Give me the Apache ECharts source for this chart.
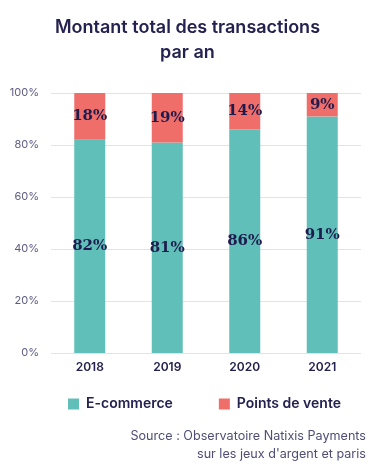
<!DOCTYPE html>
<html><head><meta charset="utf-8">
<script src="https://cdn.jsdelivr.net/npm/echarts@6/dist/echarts.min.js"></script>
<style>html,body{margin:0;padding:0;background:#fff}#c{width:375px;height:469px}</style>
</head><body><div id="c"></div>
<script>
const categories = ['2018','2019','2020','2021'];
const ecommerce = [82, 81, 86, 91];
const pointsDeVente = [18, 19, 14, 9];
const yTicks = ['0%','20%','40%','60%','80%','100%'];
const seriesNames = ['E-commerce','Points de vente'];

const chart = echarts.init(document.getElementById('c'));
const labelStyle = {
  show: true, position: 'inside',
  formatter: p => p.value + '%',
  fontFamily: '"DejaVu Serif", "Liberation Serif", serif',
  fontWeight: 'bold', fontSize: 15, color: '#1e1c4e'
};
const sansFont = 'Inter, "Noto Sans", sans-serif';
chart.setOption({
  animation: false,
  title: {
    text: 'Montant total des transactions\npar an',
    left: 'center', top: 10,
    textStyle: { fontFamily: sansFont, fontWeight: 600, fontSize: 18, color: '#23214f', lineHeight: 25 }
  },
  legend: {
    data: seriesNames, bottom: 53, left: 63, itemGap: 46,
    icon: 'rect', itemWidth: 11, itemHeight: 11,
    textStyle: { fontFamily: sansFont, fontWeight: 600, fontSize: 14, color: '#23214f', padding: [0,0,0,2] }
  },
  graphic: [
    { type: 'text', x: 366, y: 430,
      style: { text: 'Source : Observatoire Natixis Payments', align: 'right',
        fontFamily: sansFont, fontSize: 12.6, fill: '#4f4d75' } },
    { type: 'text', x: 366, y: 448,
      style: { text: 'sur les jeux d\'argent et paris', align: 'right',
        fontFamily: sansFont, fontSize: 12.6, fill: '#4f4d75' } }
  ],
  grid: { left: 51, right: 14, top: 93, bottom: 116, containLabel: false },
  xAxis: {
    type: 'category', data: categories,
    axisLine: { show: false }, axisTick: { show: false },
    axisLabel: { margin: 8, fontFamily: sansFont, fontWeight: 600, fontSize: 12, color: '#23214f' }
  },
  yAxis: {
    type: 'value', min: 0, max: 100, interval: 20,
    axisLabel: { formatter: v => yTicks[v/20], fontFamily: sansFont, fontSize: 11, color: '#5e5c85', margin: 12 },
    splitLine: { lineStyle: { color: '#e3e3e3', width: 1 } },
    axisLine: { show: false }, axisTick: { show: false }
  },
  series: [
    { name: seriesNames[0], type: 'bar', stack: 't', data: ecommerce, barWidth: 31,
      itemStyle: { color: '#60bfb8' }, label: labelStyle },
    { name: seriesNames[1], type: 'bar', stack: 't', data: pointsDeVente, barWidth: 31,
      itemStyle: { color: '#ef6e69' }, label: labelStyle }
  ]
});
</script></body></html>
